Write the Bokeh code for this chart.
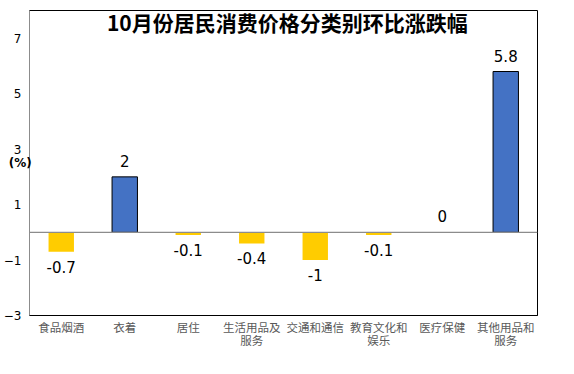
from bokeh.plotting import figure
from bokeh.models import ColumnDataSource, FixedTicker, Span, Label, Range1d
from bokeh.core.properties import value
from bokeh.embed import file_html
from bokeh.resources import INLINE

title_text = "10月份居民消费价格分类别环比涨跌幅"
unit_text = "(%)"
categories = ["食品烟酒", "衣着", "居住", "生活用品及\n服务", "交通和通信", "教育文化和\n娱乐", "医疗保健", "其他用品和\n服务"]
values = [-0.7, 2, -0.1, -0.4, -1, -0.1, 0, 5.8]
y_ticks = [7, 5, 3, 1, -1, -3]

xs = [i + 0.5 for i in range(len(categories))]
colors = ["#4472C4" if v > 0 else "#FFCC00" for v in values]
lines = ["black" if v > 0 else None for v in values]
labels = [("%g" % v) for v in values]
offs = [15 if v < 0 else -16 for v in values]

src = ColumnDataSource(dict(x=xs, top=values, color=colors, line=lines, label=labels, off=offs))

p = figure(width=566, height=360, output_backend="svg", toolbar_location=None,
           x_range=Range1d(0, 8), y_range=Range1d(-3, 8),
           min_border_left=29, min_border_right=29, min_border_top=10, min_border_bottom=45)
p.grid.visible = False
p.outline_line_color = "black"
p.outline_line_width = 1
p.background_fill_color = "white"
p.border_fill_color = "white"

p.vbar(x="x", top="top", bottom=0, width=0.4, fill_color="color", line_color="line", line_width=1, source=src)

p.add_layout(Span(location=0, dimension="width", line_color="#8c8c8c", line_width=1.2))

p.text(x="x", y="top", text="label", y_offset="off", text_align="center", text_baseline="middle",
       text_font=value("DejaVu Sans"), text_font_size="15px", text_color="black", source=src)

# y axis
p.yaxis.ticker = FixedTicker(ticks=y_ticks)
p.yaxis.axis_line_color = "#8c8c8c"
p.yaxis.major_tick_line_color = None
p.yaxis.minor_tick_line_color = None
p.yaxis.major_tick_out = 0
p.yaxis.minor_tick_out = 0
p.yaxis.major_tick_in = 0
p.yaxis.minor_tick_in = 0
p.yaxis.major_label_text_font = "DejaVu Sans"
p.yaxis.major_label_text_font_size = "12px"
p.yaxis.major_label_text_color = "black"
p.yaxis.major_label_standoff = 8
p.yaxis.axis_label = unit_text
p.yaxis.axis_label_orientation = "horizontal"
p.yaxis.axis_label_text_font = "DejaVu Sans"
p.yaxis.axis_label_text_font_size = "12px"
p.yaxis.axis_label_text_font_style = "bold"
p.yaxis.axis_label_text_color = "black"
p.yaxis.axis_label_standoff = -31

# x axis
p.xaxis.ticker = FixedTicker(ticks=xs)
p.xaxis.major_label_overrides = {x: c for x, c in zip(xs, categories)}
p.xaxis.axis_line_color = "black"
p.xaxis.major_tick_line_color = None
p.xaxis.minor_tick_line_color = None
p.xaxis.major_tick_out = 0
p.xaxis.minor_tick_out = 0
p.xaxis.major_tick_in = 0
p.xaxis.minor_tick_in = 0
p.xaxis.major_label_text_font = "Noto Sans CJK SC"
p.xaxis.major_label_text_font_size = "11.5px"
p.xaxis.major_label_text_line_height = 0.85
p.xaxis.major_label_text_color = "#595959"
p.xaxis.major_label_standoff = 3

p.add_layout(Label(x=4.06, y=7.57, text=title_text, text_align="center", text_baseline="middle",
                   text_font="Noto Sans CJK SC", text_font_size="21px", text_font_style="bold", text_color="black"))

open("out.html", "w").write(file_html(p, INLINE))
